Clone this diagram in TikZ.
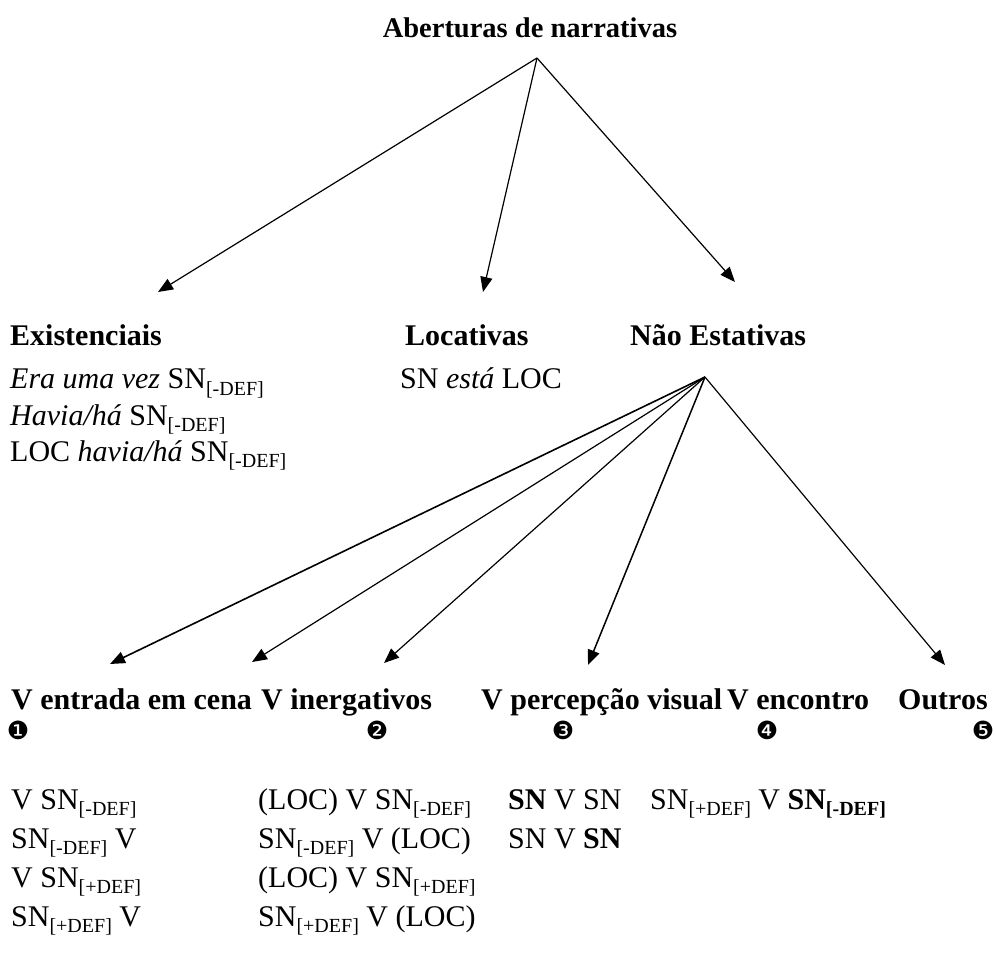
\documentclass[tikz,border=0pt]{standalone}
\usepackage{fontspec}
\setmainfont{Liberation Serif}
\newfontfamily\dingfont{DejaVu Sans}
\usetikzlibrary{arrows.meta}
\newcommand\sbx[1]{\raisebox{-0.22em}{\fontsize{20}{20}\selectfont #1}}
\newcommand\md{\sbx{[-DEF]}}
\newcommand\pd{\sbx{[+DEF]}}
\tikzset{
  txt/.style={anchor=base west, inner sep=0pt, font=\fontsize{30}{36}\selectfont},
  hdr/.style={txt, font=\fontsize{30}{36}\selectfont\bfseries},
  num/.style={anchor=center, inner sep=0pt, font=\fontsize{25}{25}\selectfont\dingfont},
  arr/.style={line width=1.2pt, -{Triangle[length=15pt,width=12pt]}}
}
\begin{document}
\begin{tikzpicture}[x=1pt,y=-1pt]
\useasboundingbox (0,0) rectangle (996,973);
% title
\node[hdr, anchor=base, font=\fontsize{28.5}{34}\selectfont\bfseries] (title) at (530,38) {Aberturas de narrativas};
\coordinate (apexA) at (537,58);
% level 1
\node[hdr] (exist) at (10,346) {Existenciais};
\node[hdr] (loc) at (405,346) {Locativas};
\node[hdr] (nest) at (630,346) {Não Estativas};
\coordinate (tExist) at (158,292);
\coordinate (tLoc) at (483,292);
\coordinate (tNest) at (735,282);
\draw[arr] (apexA) -- (tExist);
\draw[arr] (apexA) -- (tLoc);
\draw[arr] (apexA) -- (tNest);
% existential lines
\node[txt] (e1) at (10,389) {\textit{Era uma vez} SN\md};
\node[txt] (e2) at (10,425) {\textit{Havia/há} SN\md};
\node[txt] (e3) at (10,461) {LOC \textit{havia/há} SN\md};
\node[txt] (l1) at (400,389) {SN \textit{está} LOC};
% level 2
\coordinate (apexB) at (705,377);
\coordinate (tEnt) at (110,664);
\coordinate (tIne) at (252,662);
\coordinate (tPer) at (384,663);
\coordinate (tEnc) at (588,665);
\coordinate (tOut) at (945,665);
\draw[arr, line width=1.6pt] (apexB) -- (tEnt);
\draw[arr] (apexB) -- (tIne);
\draw[arr] (apexB) -- (tPer);
\draw[arr, line width=1.5pt] (apexB) -- (tEnc);
\draw[arr] (apexB) -- (tOut);
\node[hdr] (ent) at (11,709) {V entrada em cena};
\node[hdr] (ine) at (261,709) {V inergativos};
\node[hdr] (per) at (481,709) {V percepção visual};
\node[hdr] (enc) at (727,709) {V encontro};
\node[hdr] (out) at (898,709) {Outros};
\node[num] (n1) at (18,730) {❶};
\node[num] (n2) at (377,730) {❷};
\node[num] (n3) at (563,730) {❸};
\node[num] (n4) at (767,730) {❹};
\node[num] (n5) at (983,730) {❺};
% rows
\node[txt] (a1) at (11,809) {V SN\md};
\node[txt] (a2) at (11,848) {SN\md{} V};
\node[txt] (a3) at (11,887) {V SN\pd};
\node[txt] (a4) at (11,926) {SN\pd{} V};
\node[txt] (b1) at (258,809) {(LOC) V SN\md};
\node[txt] (b2) at (258,848) {SN\md{} V (LOC)};
\node[txt] (b3) at (258,887) {(LOC) V SN\pd};
\node[txt] (b4) at (258,926) {SN\pd{} V (LOC)};
\node[txt] (c1) at (508,809) {\textbf{SN} V SN};
\node[txt] (c2) at (508,848) {SN V \textbf{SN}};
\node[txt] (d1) at (650,809) {SN\pd{} V \textbf{SN\md}};
\end{tikzpicture}
\end{document}
